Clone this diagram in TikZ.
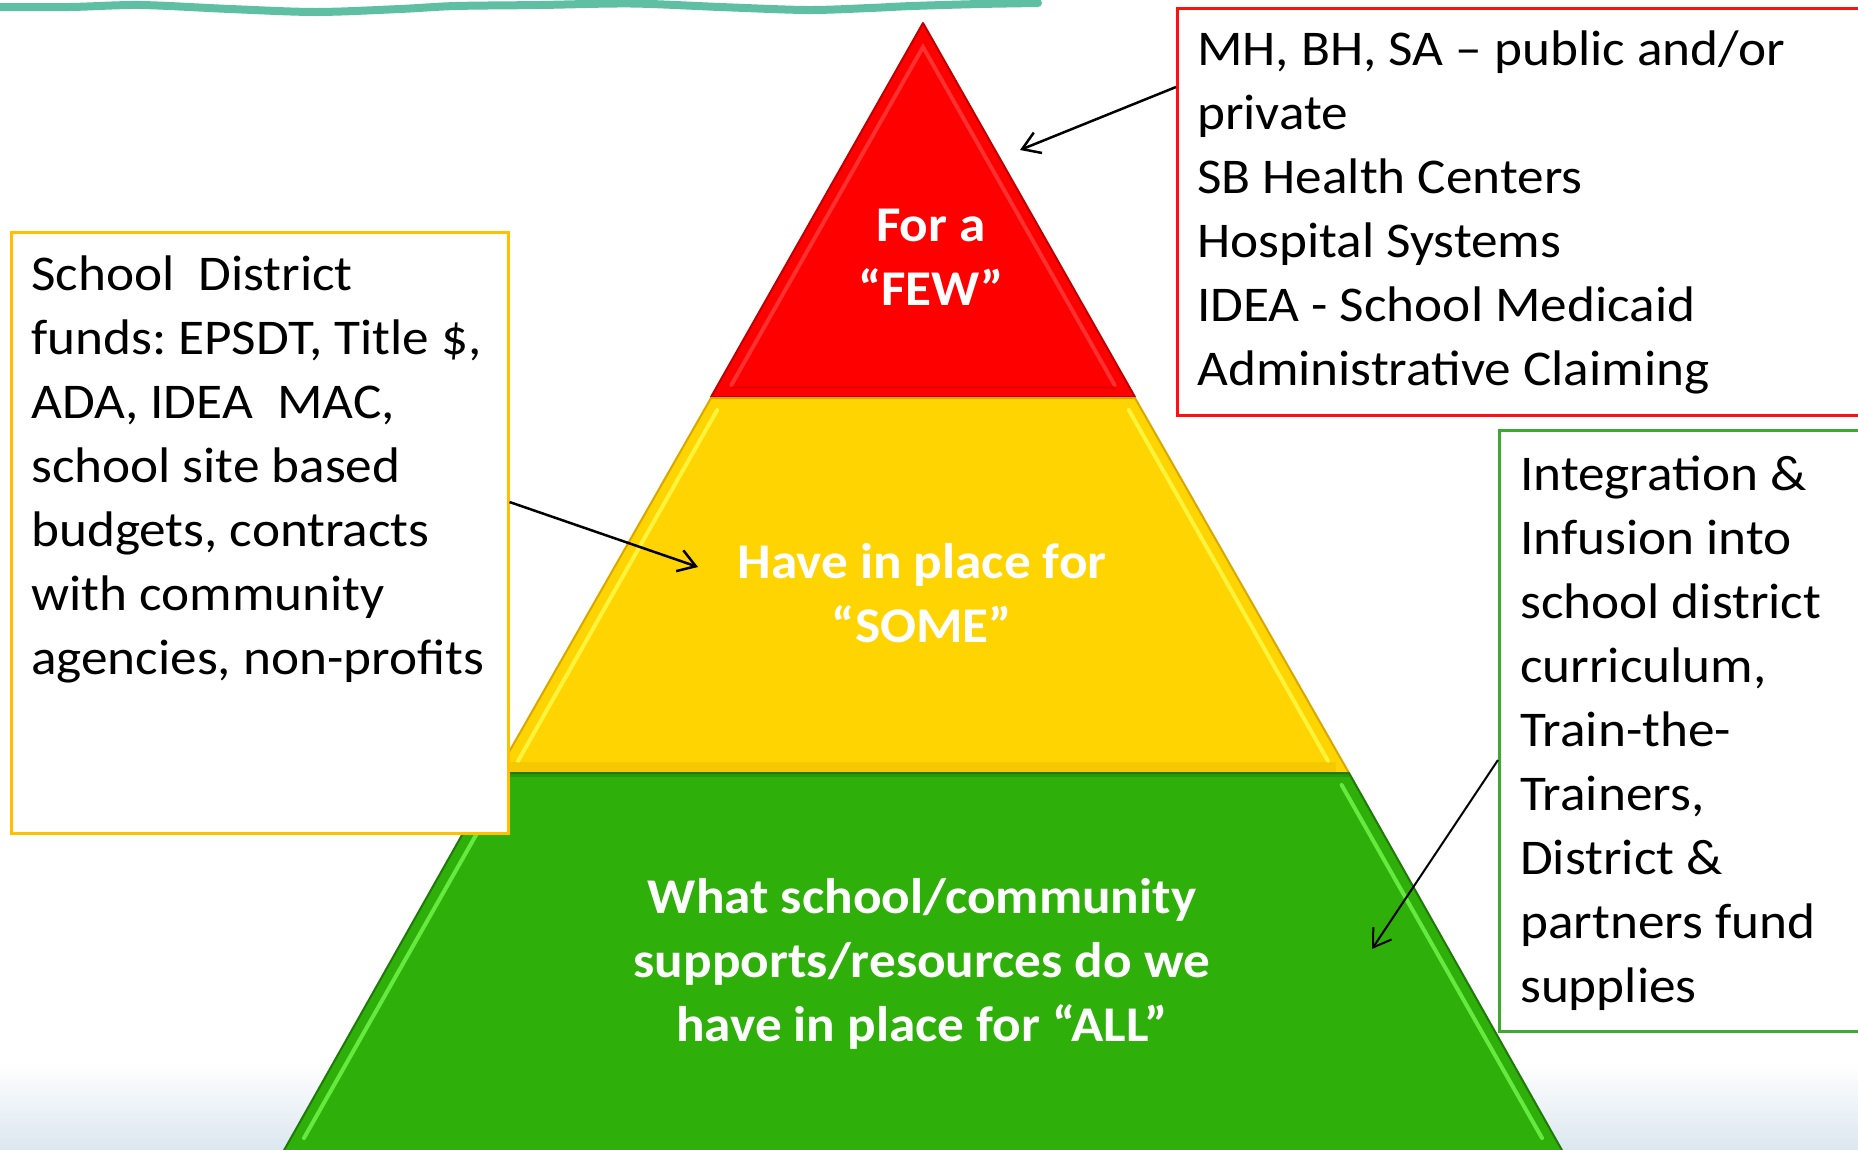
\documentclass[tikz,border=0pt]{standalone}
\usepackage{fontspec}
\setmainfont{Carlito}[FakeStretch=1.065]
\usetikzlibrary{arrows.meta,calc}
\frenchspacing
\definecolor{redfill}{HTML}{FF0000}
\definecolor{reddark}{HTML}{C00000}
\definecolor{redlight}{HTML}{FF5050}
\definecolor{yelfill}{HTML}{FFD400}
\definecolor{yeldark}{HTML}{D9A800}
\definecolor{yellight}{HTML}{FFF33C}
\definecolor{grnfill}{HTML}{2EAF0A}
\definecolor{grndark}{HTML}{1F7A08}
\definecolor{grnlight}{HTML}{66EA40}
\definecolor{tealline}{HTML}{5FBFA3}
\definecolor{bgblue}{HTML}{DCE7F0}
\definecolor{boxred}{HTML}{FF1010}
\definecolor{boxyel}{HTML}{FFC000}
\definecolor{boxgrn}{HTML}{3CAA2C}
\tikzset{
  tiertext/.style={text=white, font=\fontsize{50}{64}\selectfont\bfseries, align=center, inner sep=0pt},
  boxtext/.style={text=black, font=\fontsize{50}{64}\selectfont, align=left, inner sep=0pt, anchor=base west},
  infobox/.style={draw=#1, line width=2.5pt, fill=white, anchor=north west, inner sep=0pt},
  arr/.style={draw=black, line width=2.5pt, -{Straight Barb[length=17pt,width=22pt]}},
  hilite/.style={line width=4pt, line cap=round},
}
\begin{document}
\begin{tikzpicture}[x=1pt,y=-1pt]
\useasboundingbox (0,0) rectangle (1858,1149);
\clip (0,0) rectangle (1858,1149);
% background
\fill[white] (0,0) rectangle (1858,1149);
\shade[top color=white, bottom color=bgblue] (0,1062) rectangle (1858,1149);
% top teal stroke
\draw[tealline, line width=8pt, line cap=round] plot[smooth] coordinates
  {(-5,7) (70,7) (140,5) (230,9) (316,12) (400,9) (456,6) (540,5) (631,3.5) (720,7) (807,10) (870,8) (912,6) (980,4) (1038,3)};
% pyramid tiers
\fill[redfill] (923,23) -- (1135,397) -- (711,397) -- cycle;
\draw[reddark, line width=2pt, line join=round] (923,23) -- (1135,397) -- (711,397) -- cycle;
\draw[hilite, redlight, opacity=0.6] (731.4,385) -- (923,47) -- (1114.6,385);
\draw[line width=3pt, reddark, opacity=0.3] (731.4,387) -- (1114.6,387);

\fill[yelfill] (711,398) -- (1135,398) -- (1349,773) -- (497,773) -- cycle;
\draw[yeldark, line width=2pt, line join=round] (711,398) -- (1135,398) -- (1349,773) -- (497,773) -- cycle;
\draw[hilite, yellight] (717.2,410) -- (518,761);
\draw[hilite, yellight] (1128.8,410) -- (1328,761);
\draw[line width=10pt, yeldark, opacity=0.25] (510,767) -- (1336,767);

\fill[grnfill] (497,773) -- (1349,773) -- (1563,1152) -- (283,1152) -- cycle;
\draw[grndark, line width=2pt, line join=round] (497,773) -- (1349,773) -- (1563,1152) -- (283,1152) -- cycle;
\draw[hilite, grnlight] (504.4,785) -- (304,1138);
\draw[hilite, grnlight] (1341.6,785) -- (1542,1138);
\draw[line width=3pt, grndark, opacity=0.4] (497,775) -- (1349,775);

% tier labels (base anchor = last line)
\node[tiertext, anchor=base] (few) at (931,305) {For a\\“FEW”};
\node[tiertext, anchor=base] (some) at (922,642) {Have in place for\\“SOME”};
\node[tiertext, anchor=base] (all) at (922,1041) {What school/community\\supports/resources do we\\have in place for “ALL”};

% info boxes
\node[infobox=boxred, minimum width=720pt, minimum height=407pt] (fewbox) at (1176,7) {};
\node[infobox=boxyel, minimum width=497pt, minimum height=601pt] (somebox) at (10,231) {};
\node[infobox=boxgrn, minimum width=400pt, minimum height=601pt] (allbox) at (1498,429) {};

\node[boxtext] (fewtxt) at (1197,385) {MH, BH, SA – public and/or\\private\\SB Health Centers\\Hospital Systems\\IDEA - School Medicaid\\Administrative Claiming};
\node[boxtext] (sometxt) at (31,674) {School\ \ District\\funds: EPSDT, Title \$,\\ADA, IDEA\ \ MAC,\\school site based\\budgets, contracts\\with community\\agencies, non-profits};
\node[boxtext] (alltxt) at (1520,1002) {Integration \&\\Infusion into\\school district\\curriculum,\\Train-the-\\Trainers,\\District \&\\partners fund\\supplies};

% arrows
\coordinate (fewfrom) at ($(fewbox.north west)+(0,80)$);
\coordinate (fewtip) at (1020,150);
\coordinate (somefrom) at ($(somebox.north east)+(0,271)$);
\coordinate (sometip) at (698,567);
\coordinate (allfrom) at ($(allbox.north west)+(0,331)$);
\coordinate (alltip) at (1372,949);
\draw[arr] (fewfrom) -- (fewtip);
\draw[arr] (somefrom) -- (sometip);
\draw[arr, line width=2pt] (allfrom) -- (alltip);
\end{tikzpicture}
\end{document}
